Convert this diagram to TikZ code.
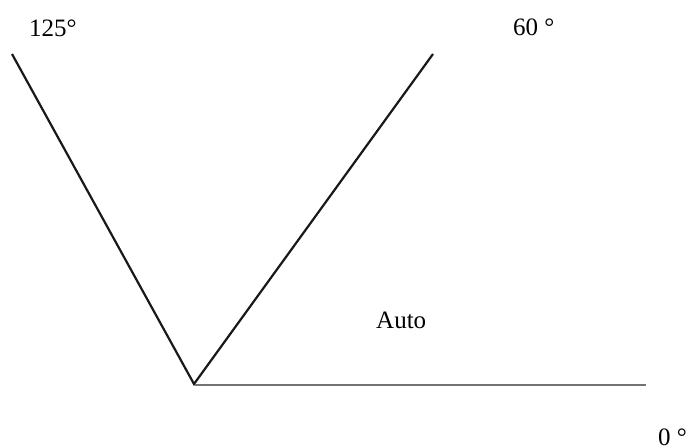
\documentclass[tikz,border=0pt]{standalone}
\usepackage{fontspec}
\setmainfont{Liberation Serif}
\begin{document}
\begin{tikzpicture}[x=1pt,y=-1pt,
  arm/.style={line width=2.2pt,black!90},
  base/.style={line width=1.8pt,black!55},
  lbl/.style={font=\fontsize{25}{30}\selectfont,inner sep=0pt,anchor=base west}]
\useasboundingbox[fill=white] (0,0) rectangle (688,445);
\coordinate (v) at (194,384);
\coordinate (l) at (12,54);
\coordinate (r) at (433,54);
\coordinate (v2) at (195,385);
\coordinate (h) at (646,385);
\draw[arm] (l) -- (v) -- (r);
\draw[base] (v2) -- (h);
\node[lbl] (a) at (29,36) {125°};
\node[lbl] (b) at (513,35) {60 °};
\node[lbl] (c) at (376,328) {Auto};
\node[lbl] (d) at (658,445) {0 °};
\end{tikzpicture}
\end{document}
